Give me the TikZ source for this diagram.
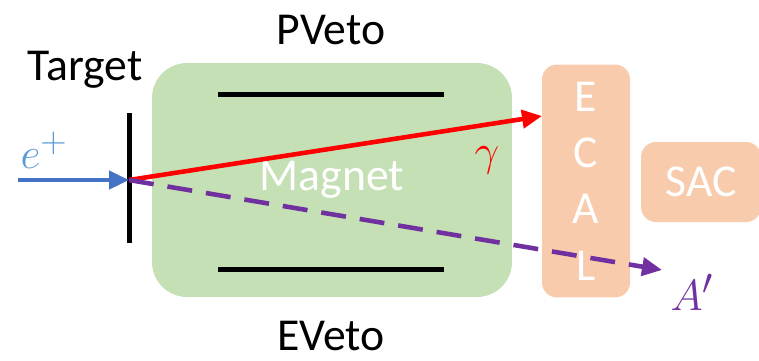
\documentclass[tikz,border=0pt]{standalone}
\usepackage{fontspec}
\setmainfont{Carlito}
\usetikzlibrary{arrows.meta,positioning}

\definecolor{magnetgreen}{HTML}{C5E0B4}
\definecolor{calopeach}{HTML}{F8CBAD}
\definecolor{beamblue}{HTML}{4472C4}
\definecolor{labelblue}{HTML}{5B9BD5}
\definecolor{photonred}{HTML}{FF0000}
\definecolor{darkpurple}{HTML}{7030A0}

\tikzset{
    detbox/.style={fill=calopeach, rounded corners=0.3cm, text=white, inner sep=0pt},
    bar/.style={fill=black, inner sep=0pt, minimum height=0.1cm},
    tag/.style={font=\fontsize{26}{30}\selectfont},
    mathtag/.style={font=\fontsize{31}{35}\selectfont},
    track/.style={line width=2.6pt, -{Triangle[length=0.4cm, width=0.36cm]}},
}

\begin{document}
\begin{tikzpicture}[x=0.02cm, y=-0.02cm]
    \useasboundingbox (0,0) rectangle (759,360);
    % detectors
    \node[fill=magnetgreen, rounded corners=0.7cm, minimum width=7.2cm, minimum height=4.68cm,
          text=white, tag] (magnet) at (332,180) {Magnet};
    \node[bar, minimum width=4.52cm] (pveto) at (331,94) {};
    \node[bar, minimum width=4.52cm] (eveto) at (331,269) {};
    \node[detbox, minimum width=1.76cm, minimum height=4.66cm, align=center,
          font=\fontsize{26}{32}\selectfont] (ecal) at (586,181) {E\\C\\A\\L};
    \node[detbox, minimum width=2.4cm, minimum height=1.6cm, tag] (sac) at (701,182) {SAC};
    \node[bar, minimum width=0.1cm, minimum height=2.6cm] (target) at (129,178) {};
    % labels
    \node[tag] (pvetolbl) at (331,30) {PVeto};
    \node[tag] (evetolbl) at (331,336) {EVeto};
    \node[tag] (targetlbl) at (85,70) {Target};
    % tracks
    \coordinate (beam) at (18,180);
    \coordinate (vertex) at (129,180);
    \coordinate (gammaend) at (542,116);
    \coordinate (aend) at (662,270);
    \draw[track, beamblue] (beam) -- (vertex);
    \draw[track, photonred] (vertex) -- (gammaend);
    \draw[track, darkpurple, dash pattern=on 0.5cm off 0.28cm] (vertex) -- (aend);
    \node[mathtag, text=labelblue] (eplus) at (44,150) {$e^+$};
    \node[mathtag, text=photonred] (gamma) at (487,160) {$\gamma$};
    \node[mathtag, text=darkpurple] (aprime) at (692,292) {$A'$};
\end{tikzpicture}
\end{document}
